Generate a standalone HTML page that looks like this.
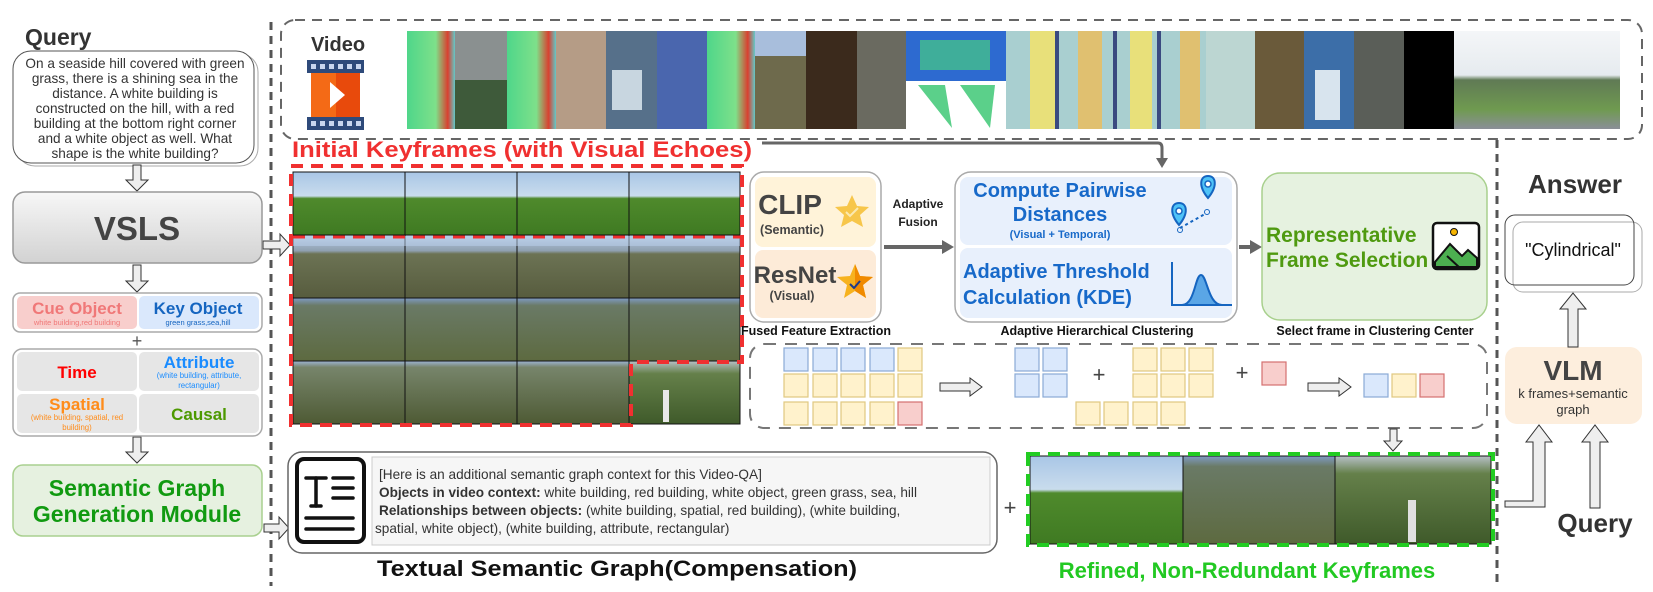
<!DOCTYPE html>
<html><head><meta charset="utf-8"><style>
html,body{margin:0;padding:0;background:#fff;width:1653px;height:592px;overflow:hidden}
svg{display:block;font-family:"Liberation Sans",sans-serif}
</style></head><body>
<svg width="1653" height="592" viewBox="0 0 1653 592" xmlns="http://www.w3.org/2000/svg">
<defs>
<linearGradient id="gv" x1="0" y1="0" x2="0" y2="1"><stop offset="0" stop-color="#f7f7f7"/><stop offset="1" stop-color="#d2d2d2"/></linearGradient>
<linearGradient id="g1" x1="0" y1="0" x2="0" y2="1"><stop offset="0" stop-color="#a9c6e6"/><stop offset=".38" stop-color="#c9dced"/><stop offset=".42" stop-color="#4f8a2c"/><stop offset="1" stop-color="#3f7a22"/></linearGradient>
<linearGradient id="g2" x1="0" y1="0" x2="0" y2="1"><stop offset="0" stop-color="#b9cde6"/><stop offset=".25" stop-color="#8fa0b0"/><stop offset=".3" stop-color="#6c7354"/><stop offset="1" stop-color="#575c3e"/></linearGradient>
<linearGradient id="g3" x1="0" y1="0" x2="0" y2="1"><stop offset="0" stop-color="#7f9bc4"/><stop offset=".12" stop-color="#6a7a66"/><stop offset="1" stop-color="#5d6a40"/></linearGradient>
<linearGradient id="g4" x1="0" y1="0" x2="0" y2="1"><stop offset="0" stop-color="#9db4d4"/><stop offset=".1" stop-color="#77856b"/><stop offset="1" stop-color="#4e5a34"/></linearGradient>
<linearGradient id="g5" x1="0" y1="0" x2="0" y2="1"><stop offset="0" stop-color="#b7c0c7"/><stop offset=".2" stop-color="#65804a"/><stop offset="1" stop-color="#3f5a2a"/></linearGradient>
<linearGradient id="hm" x1="0" y1="0" x2="1" y2="0"><stop offset="0" stop-color="#4fd68a"/><stop offset=".6" stop-color="#7ee08a"/><stop offset=".85" stop-color="#d94030"/><stop offset="1" stop-color="#63c8c8"/></linearGradient>
<linearGradient id="town" x1="0" y1="0" x2="0" y2="1"><stop offset="0" stop-color="#f4f6f8"/><stop offset=".45" stop-color="#e6ebef"/><stop offset=".5" stop-color="#607a55"/><stop offset=".8" stop-color="#6f9a50"/><stop offset="1" stop-color="#8a8f98"/></linearGradient>
</defs>

<line x1="271" y1="22" x2="271" y2="586" stroke="#555" stroke-width="3" stroke-dasharray="8 6"/>
<line x1="1497" y1="140" x2="1497" y2="586" stroke="#555" stroke-width="3" stroke-dasharray="8 6"/>

<!-- LEFT COLUMN -->
<text x="25" y="45" font-size="23" font-weight="bold" fill="#333">Query</text>
<rect x="17" y="54" width="241" height="112" rx="18" fill="#fff" stroke="#aaa"/>
<rect x="13" y="51" width="241" height="112" rx="18" fill="#fff" stroke="#555"/>
<g font-size="13.6" fill="#333" text-anchor="middle">
<text x="135" y="68">On a seaside hill covered with green</text>
<text x="135" y="83">grass, there is a shining sea in the</text>
<text x="135" y="98">distance. A white building is</text>
<text x="135" y="113">constructed on the hill, with a red</text>
<text x="135" y="128">building at the bottom right corner</text>
<text x="135" y="143">and a white object as well. What</text>
<text x="135" y="158">shape is the white building?</text>
</g>
<g fill="#eee" stroke="#333" stroke-width="1">
<polygon points="133,165 141,165 141,180 148,180 137,191 126,180 133,180"/>
<polygon points="133,265 141,265 141,281 148,281 137,292 126,281 133,281"/>
<polygon points="133,437 141,437 141,452 148,452 137,463 126,452 133,452"/>
<polygon points="263,241 280,241 280,234 290,245 280,256 280,249 263,249"/>
<polygon points="264,524 279,524 279,517 289,528 279,539 279,532 264,532"/>
</g>
<rect x="13" y="192" width="249" height="71" rx="12" fill="url(#gv)" stroke="#999" stroke-width="1.5"/>
<text x="137" y="240" font-size="33" font-weight="bold" fill="#444" text-anchor="middle">VSLS</text>

<rect x="13" y="293" width="249" height="39" rx="7" fill="#fff" stroke="#aaa" stroke-width="1.5"/>
<rect x="17" y="296" width="120" height="33" rx="5" fill="#f8cecc"/>
<rect x="139" y="296" width="120" height="33" rx="5" fill="#dae8fc"/>
<text x="77" y="314" font-size="17" font-weight="bold" fill="#f07878" text-anchor="middle">Cue Object</text>
<text x="77" y="325" font-size="7.5" fill="#f07878" text-anchor="middle">white building,red building</text>
<text x="198" y="314" font-size="17" font-weight="bold" fill="#1565c0" text-anchor="middle">Key Object</text>
<text x="198" y="325" font-size="7.5" fill="#1565c0" text-anchor="middle">green grass,sea,hill</text>
<text x="137" y="347" font-size="18" fill="#555" text-anchor="middle">+</text>

<rect x="13" y="349" width="249" height="87" rx="9" fill="#fff" stroke="#aaa" stroke-width="1.5"/>
<rect x="17" y="352" width="120" height="39" rx="5" fill="#e6e6e6"/>
<rect x="139" y="352" width="120" height="39" rx="5" fill="#e6e6e6"/>
<rect x="17" y="394" width="120" height="39" rx="5" fill="#e6e6e6"/>
<rect x="139" y="394" width="120" height="39" rx="5" fill="#e6e6e6"/>
<text x="77" y="378" font-size="17" font-weight="bold" fill="#ff0000" text-anchor="middle">Time</text>
<text x="199" y="368" font-size="17" font-weight="bold" fill="#1a8cff" text-anchor="middle">Attribute</text>
<text x="199" y="378" font-size="7.8" fill="#1a8cff" text-anchor="middle">(white building, attribute,</text>
<text x="199" y="388" font-size="7.8" fill="#1a8cff" text-anchor="middle">rectangular)</text>
<text x="77" y="410" font-size="17" font-weight="bold" fill="#ff8c1a" text-anchor="middle">Spatial</text>
<text x="77" y="420" font-size="7.8" fill="#ff8c1a" text-anchor="middle">(white building, spatial, red</text>
<text x="77" y="430" font-size="7.8" fill="#ff8c1a" text-anchor="middle">building)</text>
<text x="199" y="420" font-size="17" font-weight="bold" fill="#4d9900" text-anchor="middle">Causal</text>

<rect x="13" y="465" width="249" height="71" rx="10" fill="#e6f1e0" stroke="#a9d08f" stroke-width="1.5"/>
<text x="137" y="496" font-size="23" font-weight="bold" fill="#119a11" text-anchor="middle">Semantic Graph</text>
<text x="137" y="522" font-size="23" font-weight="bold" fill="#119a11" text-anchor="middle">Generation Module</text>

<!-- VIDEO -->
<rect x="281" y="20" width="1361" height="119" rx="14" fill="none" stroke="#666" stroke-width="2" stroke-dasharray="10 7"/>
<text x="338" y="51" font-size="20" font-weight="bold" fill="#333" text-anchor="middle">Video</text>
<rect x="307" y="60" width="57" height="13" fill="#2e4a7a"/>
<rect x="307" y="117" width="57" height="13" fill="#2e4a7a"/>
<g fill="#c9d6ee"><rect x="311" y="64" width="5" height="5"/><rect x="320" y="64" width="5" height="5"/><rect x="329" y="64" width="5" height="5"/><rect x="338" y="64" width="5" height="5"/><rect x="347" y="64" width="5" height="5"/><rect x="356" y="64" width="5" height="5"/>
<rect x="311" y="121" width="5" height="5"/><rect x="320" y="121" width="5" height="5"/><rect x="329" y="121" width="5" height="5"/><rect x="338" y="121" width="5" height="5"/><rect x="347" y="121" width="5" height="5"/><rect x="356" y="121" width="5" height="5"/></g>
<rect x="311" y="73" width="49" height="44" fill="#f46a16"/>
<rect x="336" y="73" width="24" height="44" fill="#e84a0c"/>
<polygon points="330,82 345,95 330,108" fill="#fff"/>

<g>
<rect x="407" y="31" width="48" height="98" fill="url(#hm)"/>
<rect x="455" y="31" width="52" height="98" fill="#8a9090"/><rect x="455" y="80" width="52" height="49" fill="#3e5a3a"/>
<rect x="507" y="31" width="49" height="98" fill="url(#hm)"/>
<rect x="556" y="31" width="50" height="98" fill="#b59c86"/>
<rect x="606" y="31" width="51" height="98" fill="#56708a"/><rect x="612" y="70" width="30" height="40" fill="#c8d6e0"/>
<rect x="657" y="31" width="50" height="98" fill="#4a66ae"/>
<rect x="707" y="31" width="48" height="98" fill="url(#hm)"/>
<rect x="755" y="31" width="51" height="98" fill="#6e6a4c"/><rect x="755" y="31" width="51" height="25" fill="#a8bedc"/>
<rect x="806" y="31" width="51" height="98" fill="#3b2a1c"/>
<rect x="857" y="31" width="49" height="98" fill="#6a6a60"/>
<rect x="906" y="31" width="100" height="50" fill="#2d6ad0"/><rect x="920" y="40" width="70" height="30" fill="#3fae9a"/>
<rect x="906" y="81" width="100" height="48" fill="#fff"/><polygon points="918,85 945,85 952,128" fill="#5bd08a"/><polygon points="960,85 995,85 990,128" fill="#5bd08a"/>
<rect x="1006" y="31" width="200" height="98" fill="#a9cfd0"/>
<rect x="1030" y="31" width="25" height="98" fill="#e8e07a"/><rect x="1078" y="31" width="24" height="98" fill="#e0c070"/><rect x="1130" y="31" width="22" height="98" fill="#e8e07a"/><rect x="1180" y="31" width="20" height="98" fill="#e0c070"/>
<rect x="1055" y="31" width="4" height="98" fill="#3a4a80"/><rect x="1113" y="31" width="4" height="98" fill="#3a4a80"/><rect x="1157" y="31" width="4" height="98" fill="#3a4a80"/>
<rect x="1206" y="31" width="49" height="98" fill="#bcd6d2"/>
<rect x="1255" y="31" width="49" height="98" fill="#6a5a3a"/>
<rect x="1304" y="31" width="50" height="98" fill="#3c6ea8"/><rect x="1315" y="70" width="25" height="50" fill="#d8e4ee"/>
<rect x="1354" y="31" width="50" height="98" fill="#5a5e58"/>
<rect x="1404" y="31" width="50" height="98" fill="#000"/>
<rect x="1454" y="31" width="166" height="98" fill="url(#town)"/>
</g>

<!-- Initial keyframes -->
<text x="292" y="157" font-size="22" font-weight="bold" fill="#f03030" textLength="460" lengthAdjust="spacingAndGlyphs">Initial Keyframes (with Visual Echoes)</text>
<path d="M762,143 H1158 Q1162,143 1162,148 V160" fill="none" stroke="#666" stroke-width="3"/>
<polygon points="1156,158 1168,158 1162,168" fill="#666"/>

<g stroke="#111" stroke-width="1">
<rect x="293" y="172" width="112" height="63" fill="url(#g1)"/><rect x="405" y="172" width="112" height="63" fill="url(#g1)"/><rect x="517" y="172" width="112" height="63" fill="url(#g1)"/><rect x="629" y="172" width="111" height="63" fill="url(#g1)"/>
<rect x="293" y="235" width="112" height="63" fill="url(#g2)"/><rect x="405" y="235" width="112" height="63" fill="url(#g2)"/><rect x="517" y="235" width="112" height="63" fill="url(#g2)"/><rect x="629" y="235" width="111" height="63" fill="url(#g2)"/>
<rect x="293" y="298" width="112" height="63" fill="url(#g3)"/><rect x="405" y="298" width="112" height="63" fill="url(#g3)"/><rect x="517" y="298" width="112" height="63" fill="url(#g3)"/><rect x="629" y="298" width="111" height="63" fill="url(#g3)"/>
<rect x="293" y="361" width="112" height="63" fill="url(#g4)"/><rect x="405" y="361" width="112" height="63" fill="url(#g4)"/><rect x="517" y="361" width="112" height="63" fill="url(#g4)"/><rect x="629" y="361" width="111" height="63" fill="url(#g5)"/>
</g>
<rect x="293" y="236" width="447" height="10" fill="#bcd2ee" opacity=".5"/>
<rect x="663" y="390" width="6" height="32" fill="#e8e8e8"/>
<path d="M291,166 H742 V362 H631 V425 H291 Z" fill="none" stroke="#f03030" stroke-width="4" stroke-dasharray="12 8"/>
<line x1="293" y1="237" x2="740" y2="237" stroke="#f03030" stroke-width="3" stroke-dasharray="12 8"/>

<!-- Fused feature extraction -->
<rect x="750" y="172" width="131" height="150" rx="14" fill="#fff" stroke="#aaa" stroke-width="1.5"/>
<rect x="755" y="177" width="121" height="70" rx="8" fill="#fff3d9"/>
<rect x="755" y="250" width="121" height="68" rx="8" fill="#fdebd8"/>
<text x="790" y="214" font-size="28" font-weight="bold" fill="#444" text-anchor="middle">CLIP</text>
<text x="792" y="234" font-size="12.5" font-weight="bold" fill="#444" text-anchor="middle">(Semantic)</text>
<text x="795" y="283" font-size="24" font-weight="bold" fill="#444" text-anchor="middle">ResNet</text>
<text x="792" y="300" font-size="12.5" font-weight="bold" fill="#444" text-anchor="middle">(Visual)</text>
<polygon points="852,195 857,206 869,207 860,215 863,227 852,221 841,227 844,215 835,207 847,206" fill="#f7c64a"/>
<path d="M846,212 l4,4 l8,-8" fill="none" stroke="#fbe9b0" stroke-width="2"/>
<polygon points="855,264 860,276 873,277 863,285 866,298 855,291 844,298 847,285 837,277 850,276" fill="#f7b21e"/>
<polygon points="855,264 860,276 873,277 863,285 866,298 855,291" fill="#f08a00"/>
<path d="M850,284 l4,4 l6,-7" fill="none" stroke="#1e3a8a" stroke-width="2"/>

<text x="918" y="208" font-size="12" font-weight="bold" fill="#222" text-anchor="middle">Adaptive</text>
<text x="918" y="226" font-size="12" font-weight="bold" fill="#222" text-anchor="middle">Fusion</text>
<line x1="884" y1="247" x2="944" y2="247" stroke="#666" stroke-width="4"/>
<polygon points="942,240 954,247 942,254" fill="#666"/>

<!-- clustering -->
<rect x="955" y="172" width="282" height="150" rx="16" fill="#fff" stroke="#aaa" stroke-width="1.5"/>
<rect x="960" y="177" width="272" height="68" rx="8" fill="#e8f0fc"/>
<rect x="960" y="248" width="272" height="70" rx="8" fill="#e8f0fc"/>
<text x="1060" y="197" font-size="20" font-weight="bold" fill="#1769c9" text-anchor="middle">Compute Pairwise</text>
<text x="1060" y="221" font-size="20" font-weight="bold" fill="#1769c9" text-anchor="middle">Distances</text>
<text x="1060" y="238" font-size="11" font-weight="bold" fill="#1769c9" text-anchor="middle">(Visual + Temporal)</text>
<text x="963" y="278" font-size="20" font-weight="bold" fill="#1769c9">Adaptive Threshold</text>
<text x="963" y="304" font-size="20" font-weight="bold" fill="#1769c9">Calculation (KDE)</text>
<path d="M1179,225 c-10,-12 -8,-22 0,-22 c8,0 10,10 0,22z" fill="#4fc3f7" stroke="#1565c0" stroke-width="2"/>
<circle cx="1179" cy="211" r="3" fill="#fff" stroke="#1565c0" stroke-width="1.5"/>
<path d="M1208,198 c-10,-12 -8,-22 0,-22 c8,0 10,10 0,22z" fill="#4fc3f7" stroke="#1565c0" stroke-width="2"/>
<circle cx="1208" cy="184" r="3" fill="#fff" stroke="#1565c0" stroke-width="1.5"/>
<line x1="1180" y1="228" x2="1205" y2="214" stroke="#1565c0" stroke-width="2" stroke-dasharray="3 3"/>
<circle cx="1180" cy="230" r="2.5" fill="none" stroke="#1565c0"/><circle cx="1207" cy="212" r="2.5" fill="none" stroke="#1565c0"/>
<path d="M1172,262 V305 H1232" fill="none" stroke="#1565c0" stroke-width="2"/>
<path d="M1182,305 C1195,305 1195,275 1201,275 C1207,275 1208,305 1222,305 Z" fill="#5aa6e6" stroke="#1565c0" stroke-width="2"/>
<line x1="1239" y1="247" x2="1252" y2="247" stroke="#666" stroke-width="4"/>
<polygon points="1250,240 1262,247 1250,254" fill="#666"/>

<!-- representative -->
<rect x="1262" y="173" width="225" height="147" rx="18" fill="#e6f2e0" stroke="#a8d08d" stroke-width="1.5"/>
<text x="1266" y="242" font-size="21" font-weight="bold" fill="#4f9a10">Representative</text>
<text x="1266" y="267" font-size="21" font-weight="bold" fill="#4f9a10">Frame Selection</text>
<rect x="1433" y="223" width="46" height="46" rx="4" fill="#fff" stroke="#111" stroke-width="2.5"/>
<polygon points="1435,262 1450,244 1462,256 1468,250 1477,258 1477,267 1435,267" fill="#4caf50" stroke="#111" stroke-width="2"/>
<line x1="1447" y1="256" x2="1460" y2="268" stroke="#111" stroke-width="2"/>
<circle cx="1454" cy="232" r="3.5" fill="#f5b400" stroke="#111"/>

<text x="816" y="335" font-size="12.5" font-weight="bold" fill="#111" text-anchor="middle">Fused Feature Extraction</text>
<text x="1097" y="335" font-size="12.5" font-weight="bold" fill="#111" text-anchor="middle">Adaptive Hierarchical Clustering</text>
<text x="1375" y="335" font-size="12.5" font-weight="bold" fill="#111" text-anchor="middle">Select frame in Clustering Center</text>

<!-- cluster squares -->
<rect x="750" y="344" width="737" height="84" rx="14" fill="none" stroke="#777" stroke-width="2" stroke-dasharray="12 9"/>
<g stroke-width="1.2">
<g fill="#dae8fc" stroke="#8aaad6"><rect x="784" y="348" width="24" height="23"/><rect x="813" y="348" width="24" height="23"/><rect x="841" y="348" width="24" height="23"/><rect x="870" y="348" width="24" height="23"/>
<rect x="1015" y="348" width="24" height="23"/><rect x="1043" y="348" width="24" height="23"/><rect x="1015" y="374" width="24" height="23"/><rect x="1043" y="374" width="24" height="23"/><rect x="1364" y="374" width="24" height="23"/></g>
<g fill="#fff2cc" stroke="#e0c880"><rect x="898" y="348" width="24" height="23"/>
<rect x="784" y="374" width="24" height="23"/><rect x="813" y="374" width="24" height="23"/><rect x="841" y="374" width="24" height="23"/><rect x="870" y="374" width="24" height="23"/><rect x="898" y="374" width="24" height="23"/>
<rect x="784" y="402" width="24" height="23"/><rect x="813" y="402" width="24" height="23"/><rect x="841" y="402" width="24" height="23"/><rect x="870" y="402" width="24" height="23"/>
<rect x="1133" y="348" width="24" height="23"/><rect x="1161" y="348" width="24" height="23"/><rect x="1189" y="348" width="24" height="23"/>
<rect x="1133" y="374" width="24" height="23"/><rect x="1161" y="374" width="24" height="23"/><rect x="1189" y="374" width="24" height="23"/>
<rect x="1076" y="402" width="24" height="23"/><rect x="1104" y="402" width="24" height="23"/><rect x="1133" y="402" width="24" height="23"/><rect x="1161" y="402" width="24" height="23"/><rect x="1392" y="374" width="24" height="23"/></g>
<g fill="#f8cecc" stroke="#d47070"><rect x="898" y="402" width="24" height="23"/><rect x="1262" y="362" width="24" height="23"/><rect x="1420" y="374" width="24" height="23"/></g>
</g>
<text x="1099" y="382" font-size="22" fill="#444" text-anchor="middle">+</text>
<text x="1242" y="380" font-size="22" fill="#444" text-anchor="middle">+</text>
<g fill="#eee" stroke="#333" stroke-width="1">
<polygon points="940,383 970,383 970,378 982,387 970,396 970,391 940,391"/>
<polygon points="1308,383 1339,383 1339,378 1351,387 1339,396 1339,391 1308,391"/>
<polygon points="1390,429 1397,429 1397,441 1402,441 1393,451 1384,441 1390,441"/>
</g>

<!-- textual semantic graph -->
<rect x="288" y="452" width="709" height="101" rx="14" fill="#fff" stroke="#666" stroke-width="1.5"/>
<rect x="297" y="459" width="67" height="83" rx="7" fill="#fff" stroke="#111" stroke-width="4"/>
<g stroke="#111" stroke-width="3.5" stroke-linecap="round">
<line x1="306" y1="478" x2="326" y2="478"/><line x1="316" y1="478" x2="316" y2="506"/><line x1="311" y1="506" x2="321" y2="506"/>
<line x1="333" y1="478" x2="353" y2="478"/><line x1="333" y1="488" x2="353" y2="488"/><line x1="333" y1="498" x2="353" y2="498"/>
<line x1="306" y1="518" x2="353" y2="518"/><line x1="306" y1="529" x2="353" y2="529"/>
</g>
<rect x="372" y="457" width="618" height="88" fill="#f6f6f6" stroke="#ccc"/>
<g font-size="13.6" fill="#333">
<text x="379" y="479">[Here is an additional semantic graph context for this Video-QA]</text>
<text x="379" y="497"><tspan font-weight="bold">Objects in video context:</tspan> white building, red building, white object, green grass, sea, hill</text>
<text x="379" y="515"><tspan font-weight="bold">Relationships between objects:</tspan> (white building, spatial, red building), (white building,</text>
<text x="375" y="533">spatial, white object), (white building, attribute, rectangular)</text>
</g>
<text x="377" y="576" font-size="22" font-weight="bold" fill="#111" textLength="480" lengthAdjust="spacingAndGlyphs">Textual Semantic Graph(Compensation)</text>

<text x="1010" y="515" font-size="22" fill="#444" text-anchor="middle">+</text>

<!-- refined frames -->
<rect x="1030" y="456" width="153" height="88" fill="url(#g1)" stroke="#111"/>
<rect x="1183" y="456" width="152" height="88" fill="url(#g3)" stroke="#111"/>
<rect x="1335" y="456" width="156" height="88" fill="url(#g5)" stroke="#111"/>
<rect x="1408" y="500" width="8" height="42" fill="#e0e0e0"/>
<rect x="1028" y="454" width="465" height="91" fill="none" stroke="#22cc22" stroke-width="4" stroke-dasharray="12 8"/>
<text x="1247" y="578" font-size="22" font-weight="bold" fill="#22c922" text-anchor="middle">Refined, Non-Redundant Keyframes</text>

<!-- answer / VLM -->
<text x="1575" y="193" font-size="26" font-weight="bold" fill="#333" text-anchor="middle">Answer</text>
<rect x="1513" y="222" width="129" height="70" rx="10" fill="#fff" stroke="#aaa"/>
<rect x="1505" y="215" width="129" height="70" rx="10" fill="none" stroke="#444"/>
<text x="1573" y="256" font-size="18" fill="#111" text-anchor="middle">"Cylindrical"</text>
<rect x="1505" y="347" width="137" height="77" rx="12" fill="#fdeedd"/>
<text x="1573" y="380" font-size="28" font-weight="bold" fill="#444" text-anchor="middle">VLM</text>
<text x="1573" y="398" font-size="13" fill="#333" text-anchor="middle">k frames+semantic</text>
<text x="1573" y="414" font-size="13" fill="#333" text-anchor="middle">graph</text>
<g fill="#eee" stroke="#333" stroke-width="1">
<polygon points="1568,347 1578,347 1578,309 1586,309 1573,293 1560,309 1568,309"/>
<polygon points="1505,501 1505,507 1545,507 1545,442 1552,442 1539,425 1526,442 1533,442 1533,501"/>
<polygon points="1590,508 1600,508 1600,442 1608,442 1595,425 1582,442 1590,442"/>
</g>
<text x="1595" y="532" font-size="26" font-weight="bold" fill="#333" text-anchor="middle">Query</text>
</svg>
</body></html>
